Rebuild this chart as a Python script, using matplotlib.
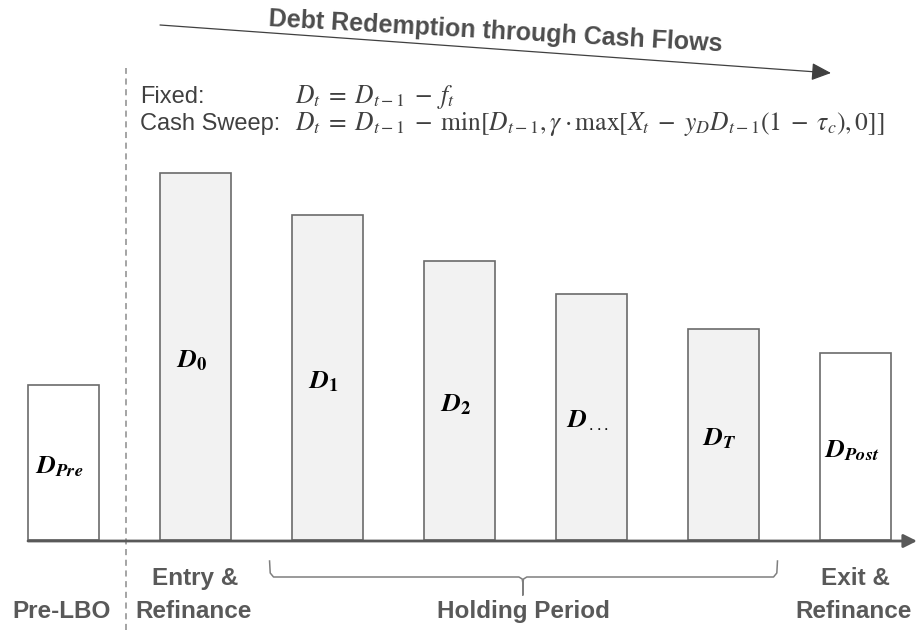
import matplotlib
matplotlib.use("Agg")
import matplotlib.pyplot as plt
from matplotlib.patches import FancyArrowPatch

plt.rcParams['font.family'] = ['Liberation Sans', 'DejaVu Sans']
plt.rcParams['mathtext.fontset'] = 'stix'

# Data (bar heights, arbitrary units)
labels = [r'$\mathbfit{D}_{\mathbfit{Pre}}$', r'$\mathbfit{D}_{\mathbf{0}}$', r'$\mathbfit{D}_{\mathbf{1}}$',
          r'$\mathbfit{D}_{\mathbf{2}}$', r'$\mathbfit{D}_{\,...}$', r'$\mathbfit{D}_{\mathbfit{T}}$',
          r'$\mathbfit{D}_{\mathbfit{Post}}$']
heights = [155, 367, 325, 279, 246, 211, 187]
filled = [False, True, True, True, True, True, False]
phase_top = ["", "Entry &", "", "", "", "", "Exit &"]
phase_bottom = ["Pre-LBO", "Refinance", "", "", "", "", "Refinance"]

gray = '#595959'
edge = '#6b6b6b'
txt = '#404040'

W, H = 917, 630
fig = plt.figure(figsize=(W / 100, H / 100), dpi=100)
ax = fig.add_axes([0, 0, 1, 1])
step = 132.0
x0 = 63.5
ax.set_xlim(-x0 / step, (W - x0) / step)
ax.set_ylim(540 - H, 540)
ax.axis('off')

def fp(x, y):
    # pixel position -> figure fraction
    return (x / W, 1 - y / H)

xs = list(range(len(heights)))
bw = 71 / step
ax.bar(xs, heights, width=bw, color=['#f2f2f2' if f else 'white' for f in filled],
       edgecolor=edge, linewidth=1.2, zorder=2)

for x, h, lab in zip(xs, heights, labels):
    ax.text(x - 0.03, h / 2 - 4, lab, ha='center', va='center', fontsize=19, color='black', zorder=3)

# baseline axis with arrow
ax.annotate('', xy=(W / W, 1 - 541 / H), xytext=(28 / W, 1 - 541 / H),
            xycoords='figure fraction', textcoords='figure fraction',
            arrowprops=dict(arrowstyle='-|>,head_length=0.8,head_width=0.4', color=gray, lw=2,
                            shrinkA=0, shrinkB=0), zorder=4)

# dashed separator
ax.plot([0.47, 0.47], [540 - 630, 540 - 68], ls=(0, (4, 3)), color='#8c8c8c', lw=1.1, zorder=1)

# phase labels
for x, t1, t2 in zip(xs, phase_top, phase_bottom):
    if t1:
        fig.text(*fp(x0 + step * x, 585), t1, ha='center', va='baseline', fontsize=17.5,
                 fontweight='bold', color=gray)
    if t2:
        fig.text(*fp(x0 + step * x - 2, 618), t2, ha='center', va='baseline', fontsize=17.5,
                 fontweight='bold', color=gray)
fig.text(*fp(523, 618), "Holding Period", ha='center', va='baseline', fontsize=17.5,
         fontweight='bold', color=gray)

# brace under holding period (D1 .. DT)
bl = 2 - bw / 2 - 0.17
br = 5 + bw / 2 + 0.14
bc = 3.5 - 0.02
y_top, y_mid, y_tip = 540 - 561, 540 - 577, 540 - 595
r = 0.03
ax.plot([bl, bl + 0.005, bl + r, bc - r, bc - 0.005, bc, bc, bc, bc + 0.005, bc + r, br - r, br - 0.005, br],
        [y_top, y_mid + 4, y_mid, y_mid, y_mid - 2, y_mid - 6, y_tip, y_mid - 6, y_mid - 2, y_mid, y_mid, y_mid + 4, y_top],
        color='#7f7f7f', lw=1.1, solid_joinstyle='round')

# top arrow and title
arr = FancyArrowPatch(fp(160, 25), fp(831, 73), transform=fig.transFigure,
                      arrowstyle='-|>,head_length=10,head_width=4.5', color='#404040', lw=0.9,
                      shrinkA=0, shrinkB=0, mutation_scale=1.2)
fig.patches.append(arr)
fig.text(*fp(495, 39), "Debt Redemption through Cash Flows", ha='center', va='baseline',
         rotation=-3.2, rotation_mode='anchor', fontsize=18, fontweight='bold', color='#4d4d4d')

# formulas
fig.text(*fp(140, 103), "Fixed:", ha='left', va='baseline', fontsize=17, color=txt)
fig.text(*fp(140, 130), "Cash Sweep:", ha='left', va='baseline', fontsize=17, color=txt)
fig.text(*fp(295, 103), r'$D_t\;=\;D_{t-1}\;-\;f_t$', ha='left', va='baseline', fontsize=18.4, color=txt)
fig.text(*fp(295, 130),
         r'$D_t\;=\;D_{t-1}\;-\;\min\left[D_{t-1},\gamma\cdot\max[X_t\;-\;y_D D_{t-1}(1\;-\;\tau_c),0]\right]$',
         ha='left', va='baseline', fontsize=18.4, color=txt)

fig.savefig('out.png', dpi=100)
